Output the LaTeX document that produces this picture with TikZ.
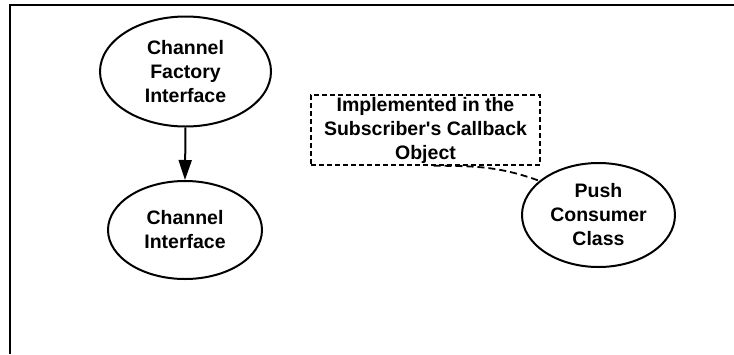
\documentclass[tikz,border=0pt]{standalone}
\usepackage{fontspec}
\setmainfont{Liberation Sans}
\usetikzlibrary{shapes.geometric,arrows.meta}
\begin{document}
\begin{tikzpicture}[x=1pt,y=-1pt,
  lbl/.style={font=\fontsize{19.5}{24}\selectfont\bfseries, align=center, inner sep=0pt},
  oval/.style={lbl, ellipse, draw, line width=2pt},
  note/.style={lbl, draw, line width=1.6pt, dash pattern=on 5pt off 3pt},
  link/.style={line width=2pt, -{Triangle[length=20pt,width=13pt]}},
  dlink/.style={line width=1.8pt, dash pattern=on 7pt off 4pt}]
\useasboundingbox (0,0) rectangle (734,354);
\draw[line width=2pt] (10,354) -- (10,5) -- (734,5);
\node[oval, minimum width=171pt, minimum height=110pt] (cf) at (185.5,71.5) {Channel\\Factory\\Interface};
\node[oval, minimum width=154pt, minimum height=98pt] (ci) at (185,230) {Channel\\Interface};
\node[oval, minimum width=153pt, minimum height=104pt] (pc) at (598.5,215) {Push\\Consumer\\Class};
\node[note, minimum width=229pt, minimum height=70pt] (nb) at (425.5,130) {Implemented in the\\Subscriber\textquotesingle s Callback\\Object};
\draw[link] (cf.south) -- (ci.north);
\draw[dlink] (nb.south) ++(8,0) coordinate (ns) (ns) to[out=0, in=160] (pc.150);
\end{tikzpicture}
\end{document}
